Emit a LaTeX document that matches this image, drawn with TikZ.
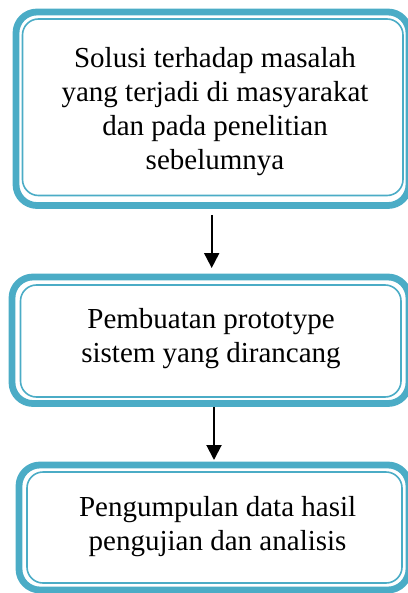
\documentclass[tikz,border=0pt]{standalone}
\usepackage{fontspec}
\setmainfont{Liberation Serif}
\usetikzlibrary{arrows.meta}
\definecolor{teal5}{HTML}{4BACC6}
\begin{document}
\begin{tikzpicture}[x=1pt,y=-1pt,
  outerbox/.style={draw=teal5,line width=6.8pt,rounded corners=21pt,inner sep=0pt,outer sep=0pt},
  innerbox/.style={draw=teal5,line width=1.6pt,rounded corners=16pt,inner sep=0pt,outer sep=0pt},
  label/.style={font=\rmfamily\fontsize{29}{34}\selectfont,align=center,inner sep=0pt},
  arr/.style={line width=2pt,-{Triangle[length=15pt,width=15pt]}}]
\useasboundingbox (0,0) rectangle (407,593);
% box 1
\node[outerbox,minimum width=393pt,minimum height=193.5pt] (b1) at (212.5,108.75) {};
\node[innerbox,minimum width=380.5pt,minimum height=176.5pt] (b1i) at (212.75,107.25) {};
\node[label] (t1) at (215,111.6) {Solusi terhadap masalah\\yang terjadi di masyarakat\\dan pada penelitian\\sebelumnya};
% box 2
\node[outerbox,minimum width=397pt,minimum height=126.5pt] (b2) at (210.5,340.25) {};
\node[innerbox,minimum width=380.5pt,minimum height=112pt] (b2i) at (210.75,341) {};
\node[label] (t2) at (211,338.1) {Pembuatan prototype\\sistem yang dirancang};
% box 3
\node[outerbox,minimum width=390pt,minimum height=125pt] (b3) at (214,527.5) {};
\node[innerbox,minimum width=375pt,minimum height=111pt] (b3i) at (214.5,527.5) {};
\node[label] (t3) at (217.6,526.8) {Pengumpulan data hasil\\pengujian dan analisis};
% arrows
\draw[arr] ([xshift=-0.8pt,yshift=-9.5pt]b1.south) -- ([xshift=1.2pt,yshift=9pt]b2.north);
\draw[arr] ([xshift=3.5pt,yshift=-3.5pt]b2.south) -- ([xshift=0pt,yshift=5pt]b3.north);
\end{tikzpicture}
\end{document}
